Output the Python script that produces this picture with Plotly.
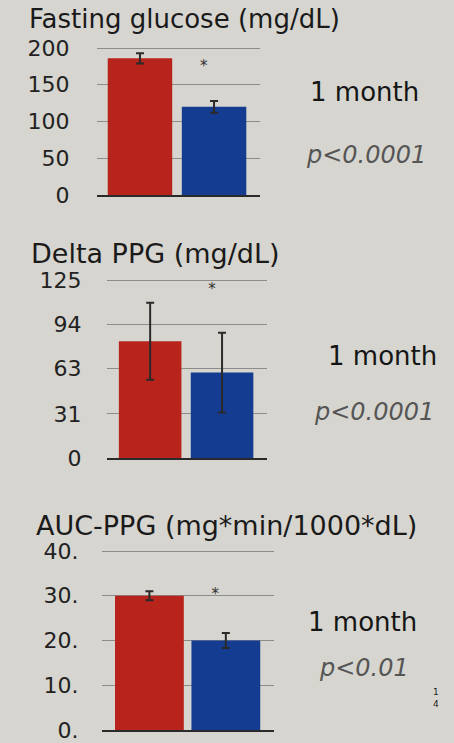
import plotly.graph_objects as go

W, H = 454, 743

groups = ["Control", "Treatment"]
bar_colors = ["#b8231c", "#143c91"]

titles = ["Fasting glucose (mg/dL)", "Delta PPG (mg/dL)", "AUC-PPG (mg*min/1000*dL)"]
glucose_vals = [186, 120]
glucose_err = [7, 8]
dppg_vals = [82, 60]
dppg_err = [27, 28]
auc_vals = [30, 20]
auc_err = [1, 1.7]
star_vals = [174, 118, 30]
periods = ["1 month", "1 month", "1 month"]
pvalues = ["p<0.0001", "p<0.0001", "p<0.01"]

tick_vals = [[0, 50, 100, 150, 200], [0, 31, 63, 94, 125], [0, 10, 20, 30, 40]]
tick_text = [["0", "50", "100", "150", "200"], ["0", "31", "63", "94", "125"],
             ["0.", "10.", "20.", "30.", "40."]]
y_max = [200, 125, 40]

vals = [glucose_vals, dppg_vals, auc_vals]
errs = [glucose_err, dppg_err, auc_err]

# layout geometry (pixels)
plot_x = [(97, 260), (107, 267), (102, 274)]
plot_y = [(48, 195), (280, 458), (551, 730)]   # pixel of top tick, pixel of zero
x_ranges = [[-0.58, 1.62], [-0.6, 1.625], [-0.62, 1.63]]
bar_w = [0.87, 0.87, 0.9]
tick_len = [22, 20, 18]
title_y = [19, 253, 525]
title_x = [27, 29, 34]
title_size = [26, 27, 27]
month_pos = [(364, 92), (382, 356), (362, 622)]
p_pos = [(366, 155), (374, 412), (364, 668)]

FONT = "DejaVu Sans, Liberation Sans, Arial, sans-serif"

fig = go.Figure()
bgc = "#d6d5cf"
layout = dict(width=W, height=H, margin=dict(l=0, r=0, t=0, b=0, autoexpand=False),
              paper_bgcolor=bgc, plot_bgcolor="rgba(0,0,0,0)", showlegend=False,
              font=dict(family=FONT, color="#1a1a1a"))
annotations = []
PAD = 0.02  # small headroom so the top gridline is drawn
for i in range(3):
    xa = "x" if i == 0 else f"x{i+1}"
    ya = "y" if i == 0 else f"y{i+1}"
    fig.add_trace(go.Bar(
        x=[0, 1], y=vals[i], width=bar_w[i], marker=dict(color=bar_colors, line=dict(width=0)),
        error_y=dict(type="data", array=errs[i], color="#2a2a2a", thickness=2, width=4),
        xaxis=xa, yaxis=ya, hoverinfo="skip"))
    fig.add_trace(go.Scatter(
        x=[0.86], y=[star_vals[i]], mode="text", text=["*"],
        textfont=dict(size=15, color="#333"), xaxis=xa, yaxis=ya, hoverinfo="skip"))
    key = "" if i == 0 else str(i + 1)
    x0, x1 = plot_x[i]
    ytop, yzero = plot_y[i]
    ytop_ext = ytop - PAD * (yzero - ytop)
    layout["xaxis" + key] = dict(domain=[x0 / W, x1 / W], range=x_ranges[i], anchor=ya,
                                 automargin=False,
                                 showgrid=False, zeroline=False, showticklabels=False,
                                 showline=True, linecolor="#2a2a2a", linewidth=2, fixedrange=True)
    layout["yaxis" + key] = dict(domain=[1 - yzero / H, 1 - ytop_ext / H],
                                 range=[0, y_max[i] * (1 + PAD)], anchor=xa,
                                 automargin=False, ticklabeloverflow="allow",
                                 tickvals=tick_vals[i], ticktext=tick_text[i],
                                 showgrid=True, gridcolor="#8d8c88", gridwidth=1,
                                 zeroline=False, showline=False,
                                 ticks="outside", ticklen=tick_len[i], tickcolor="rgba(0,0,0,0)",
                                 tickfont=dict(size=22, color="#222"), fixedrange=True)
    annotations.append(dict(text=titles[i], x=title_x[i] / W, y=1 - title_y[i] / H, xref="paper",
                            yref="paper", xanchor="left", yanchor="middle", showarrow=False,
                            font=dict(size=title_size[i], color="#1a1a1a")))
    annotations.append(dict(text=periods[i], x=month_pos[i][0] / W, y=1 - month_pos[i][1] / H,
                            xref="paper", yref="paper", xanchor="center", yanchor="middle",
                            showarrow=False, font=dict(size=26, color="#151515")))
    annotations.append(dict(text="<i>" + pvalues[i] + "</i>", x=p_pos[i][0] / W, y=1 - p_pos[i][1] / H,
                            xref="paper", yref="paper", xanchor="center", yanchor="middle",
                            showarrow=False, font=dict(size=24, color="#555")))

annotations.append(dict(text="1<br>4", x=441 / W, y=1 - 711 / H, xref="paper", yref="paper",
                        showarrow=False, font=dict(size=9, color="#222")))
layout["annotations"] = annotations
fig.update_layout(**layout)
fig.write_html("out.html")
